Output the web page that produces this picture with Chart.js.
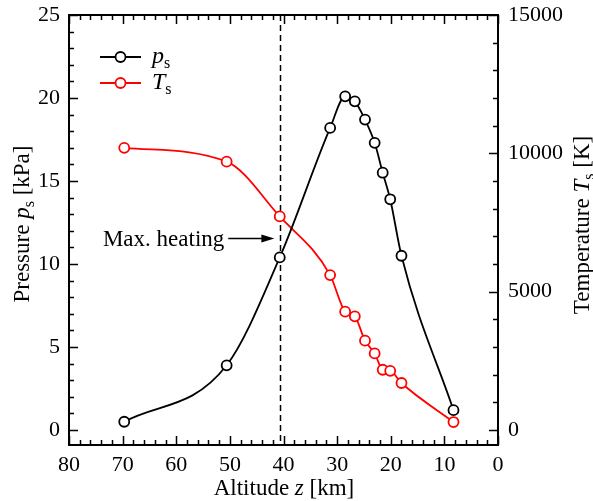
<!DOCTYPE html>
<html>
<head>
<meta charset="utf-8">
<script src="https://cdn.jsdelivr.net/npm/chart.js@4.4.1/dist/chart.umd.min.js"></script>
<style>
  html, body { margin: 0; padding: 0; background: #fff; }
  #wrap { width: 593px; height: 501px; }
</style>
</head>
<body>
<div id="wrap"><canvas id="chart"></canvas></div>
<script>
// Altitude of each sample [km]
const altitude = [69.7, 50.6, 40.7, 31.3, 28.5, 26.7, 24.8, 23.0, 21.5, 20.1, 18.0, 8.3];
// Stagnation pressure [kPa]
const pressure = [0.5, 3.9, 10.4, 18.2, 20.1, 19.8, 18.7, 17.3, 15.5, 13.9, 10.5, 1.2];
// Stagnation temperature [K]
const temperature = [10200, 9700, 7720, 5600, 4280, 4110, 3230, 2770, 2180, 2140, 1700, 290];

const altitudeTicks = [80, 70, 60, 50, 40, 30, 20, 10, 0];
const pressureTicks = [0, 5, 10, 15, 20, 25];
const temperatureTicks = [0, 5000, 10000, 15000];

const maxHeatingAltitude = 40.6;

const FONT = '"Liberation Serif", "Times New Roman", serif';
const SIZE = 22;
const TITLE = 23;

// draws text made of plain / italic / subscript pieces, centred on (x, y)
function richText(ctx, parts, x, y, rot, align, size) {
  size = size || TITLE;
  const subSize = Math.round(size * 0.68);
  ctx.save();
  ctx.translate(x, y);
  if (rot) ctx.rotate(rot);
  const fontFor = p => (p.italic ? 'italic ' : '') + (p.sub ? subSize : size) + 'px ' + FONT;
  let w = 0;
  parts.forEach(p => { ctx.font = fontFor(p); w += ctx.measureText(p.t).width; });
  let cx = align === 'left' ? 0 : -w / 2;
  ctx.textBaseline = 'alphabetic';
  ctx.textAlign = 'left';
  ctx.fillStyle = '#000';
  parts.forEach(p => {
    ctx.font = fontFor(p);
    ctx.fillText(p.t, cx, p.sub ? 5 : 0);
    cx += ctx.measureText(p.t).width;
  });
  ctx.restore();
}

const decorations = {
  id: 'decorations',
  beforeDatasetsDraw(chart) {
    const { ctx, chartArea: a, scales } = chart;
    const x = Math.round(scales.x.getPixelForValue(maxHeatingAltitude)) + 0.5;
    ctx.save();
    ctx.strokeStyle = '#000';
    ctx.lineWidth = 1.5;
    ctx.setLineDash([6, 4]);
    ctx.beginPath();
    ctx.moveTo(x, a.top);
    ctx.lineTo(x, a.bottom);
    ctx.stroke();
    ctx.restore();
  },
  afterDraw(chart) {
    const { ctx, chartArea: a, scales } = chart;
    const sx = scales.x, sp = scales.y, sT = scales.y1;
    ctx.save();
    ctx.strokeStyle = '#000';
    ctx.lineWidth = 1.5;

    // inward tick marks on all four sides
    ctx.beginPath();
    for (let v = 0; v <= 80; v += 2) {
      const px = Math.round(sx.getPixelForValue(v)) + 0.5;
      const len = v % 10 === 0 ? 9 : 5;
      ctx.moveTo(px, a.bottom); ctx.lineTo(px, a.bottom - len);
      ctx.moveTo(px, a.top); ctx.lineTo(px, a.top + len);
    }
    for (let v = 0; v <= 25; v += 1) {
      const py = Math.round(sp.getPixelForValue(v)) + 0.5;
      const len = v % 5 === 0 ? 9 : 5;
      ctx.moveTo(a.left, py); ctx.lineTo(a.left + len, py);
    }
    for (let v = 0; v <= 15000; v += 1000) {
      const py = Math.round(sT.getPixelForValue(v)) + 0.5;
      const len = v % 5000 === 0 ? 9 : 5;
      ctx.moveTo(a.right, py); ctx.lineTo(a.right - len, py);
    }
    ctx.stroke();

    // frame
    ctx.lineWidth = 2;
    ctx.strokeRect(a.left, a.top, a.right - a.left, a.bottom - a.top);

    // "Max. heating" arrow
    const ay = Math.round(sp.getPixelForValue(11.55)) + 0.5;
    const x0 = sx.getPixelForValue(50.3);
    const x1 = sx.getPixelForValue(41.7);
    ctx.lineWidth = 1.5;
    ctx.beginPath();
    ctx.moveTo(x0, ay); ctx.lineTo(x1 - 10, ay);
    ctx.stroke();
    ctx.fillStyle = '#000';
    ctx.beginPath();
    ctx.moveTo(x1, ay); ctx.lineTo(x1 - 13, ay - 4); ctx.lineTo(x1 - 13, ay + 4);
    ctx.closePath();
    ctx.fill();
    ctx.font = '23px ' + FONT;
    ctx.textAlign = 'right';
    ctx.textBaseline = 'middle';
    ctx.fillText('Max. heating', x0 - 4, ay + 1);

    // legend
    const items = [
      { ds: chart.data.datasets[0], parts: [{ t: 'p', italic: true }, { t: 's', sub: true }] },
      { ds: chart.data.datasets[1], parts: [{ t: 'T', italic: true }, { t: 's', sub: true }] }
    ];
    items.forEach((it, i) => {
      const ly = 57 + i * 26;
      ctx.strokeStyle = it.ds.borderColor;
      ctx.lineWidth = 1.8;
      ctx.beginPath();
      ctx.moveTo(100, ly); ctx.lineTo(141, ly);
      ctx.stroke();
      ctx.fillStyle = '#fff';
      ctx.beginPath();
      ctx.arc(120.5, ly, 5, 0, Math.PI * 2);
      ctx.fill(); ctx.stroke();
      richText(ctx, it.parts, 152, ly + 6, 0, 'left', 24);
    });

    // axis titles
    richText(ctx, [{ t: 'Pressure ' }, { t: 'p', italic: true }, { t: 's', sub: true }, { t: ' [kPa]' }],
      29, 224, -Math.PI / 2);
    richText(ctx, [{ t: 'Temperature ' }, { t: 'T', italic: true }, { t: 's', sub: true }, { t: ' [K]' }],
      589, 225, -Math.PI / 2);
    richText(ctx, [{ t: 'Altitude ' }, { t: 'z', italic: true }, { t: ' [km]' }],
      284, 495, 0);
    ctx.restore();
  }
};

const tickFont = { family: FONT, size: SIZE };
const noOverhang = s => { s.paddingTop = 0; s.paddingBottom = 0; s.paddingLeft = 0; s.paddingRight = 0; };

new Chart(document.getElementById('chart'), {
  type: 'line',
  data: {
    datasets: [
      {
        label: 'p_s',
        data: altitude.map((z, i) => ({ x: z, y: pressure[i] })),
        yAxisID: 'y',
        borderColor: '#000',
        backgroundColor: '#fff',
        pointBackgroundColor: '#fff',
        pointBorderColor: '#000',
        borderWidth: 1.8,
        pointRadius: 5,
        pointBorderWidth: 1.8,
        cubicInterpolationMode: 'monotone'
      },
      {
        label: 'T_s',
        data: altitude.map((z, i) => ({ x: z, y: temperature[i] })),
        yAxisID: 'y1',
        borderColor: '#ff0000',
        backgroundColor: '#fff',
        pointBackgroundColor: '#fff',
        pointBorderColor: '#ff0000',
        borderWidth: 1.8,
        pointRadius: 5,
        pointBorderWidth: 1.8,
        cubicInterpolationMode: 'monotone'
      }
    ]
  },
  options: {
    responsive: true,
    maintainAspectRatio: false,
    animation: false,
    layout: { padding: { top: 15, left: 0, right: 0, bottom: 0 } },
    plugins: { legend: { display: false }, tooltip: { enabled: false } },
    scales: {
      x: {
        type: 'linear',
        reverse: true,
        min: 0,
        max: 80,
        afterBuildTicks: s => { s.ticks = altitudeTicks.map(v => ({ value: v })); },
        afterFit: s => { s.height = 56; noOverhang(s); },
        grid: { display: false, drawTicks: false },
        border: { display: false },
        ticks: { font: tickFont, color: '#000', padding: 7, maxRotation: 0 }
      },
      y: {
        position: 'left',
        min: -0.9,
        max: 25,
        afterBuildTicks: s => { s.ticks = pressureTicks.map(v => ({ value: v })); },
        afterFit: s => { s.width = 69; noOverhang(s); },
        grid: { display: false, drawTicks: false },
        border: { display: false },
        ticks: { font: tickFont, color: '#000', padding: 9 }
      },
      y1: {
        position: 'right',
        min: -540,
        max: 15000,
        afterBuildTicks: s => { s.ticks = temperatureTicks.map(v => ({ value: v })); },
        afterFit: s => { s.width = 95; noOverhang(s); },
        grid: { display: false, drawTicks: false },
        border: { display: false },
        ticks: { font: tickFont, color: '#000', padding: 10, callback: v => String(v) }
      }
    }
  },
  plugins: [decorations]
});
</script>
</body>
</html>
